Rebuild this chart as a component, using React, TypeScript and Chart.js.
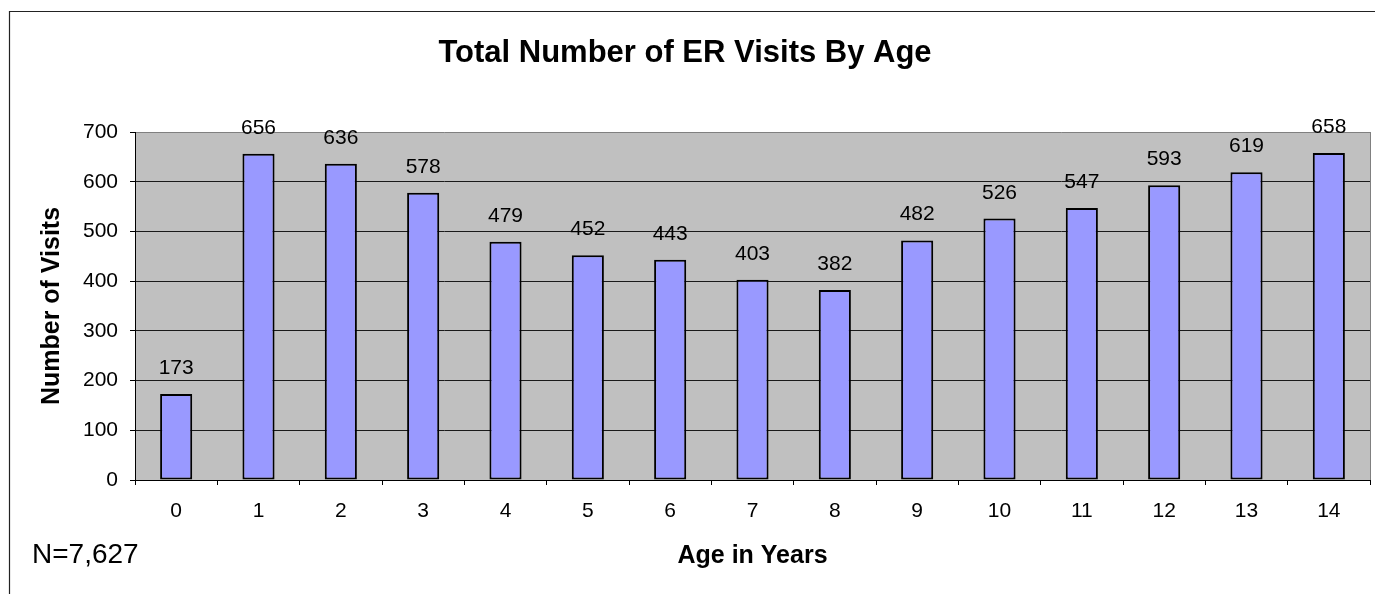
import React, { useEffect, useRef } from 'react';
import { Chart, registerables } from 'chart.js';

Chart.register(...registerables);

// ---- data ----
const ages: string[] = ['0', '1', '2', '3', '4', '5', '6', '7', '8', '9', '10', '11', '12', '13', '14'];
const visits: number[] = [173, 656, 636, 578, 479, 452, 443, 403, 382, 482, 526, 547, 593, 619, 658];
const yTicks: number[] = [0, 100, 200, 300, 400, 500, 600, 700];
const chartTitle = 'Total Number of ER Visits By Age';
const xAxisTitle = 'Age in Years';
const yAxisTitle = 'Number of Visits';
const totalNote = 'N=7,627';

const FONT = "'Liberation Sans', Arial, Helvetica, sans-serif";

const framePlugin = {
  id: 'framePlugin',
  beforeDraw(chart: any) {
    const { ctx, chartArea: a } = chart;
    ctx.save();
    ctx.fillStyle = '#C0C0C0';
    ctx.fillRect(a.left, a.top, a.right - a.left, a.bottom - a.top);
    ctx.restore();
  },
  afterDatasetsDraw(chart: any) {
    const { ctx } = chart;
    const meta = chart.getDatasetMeta(0);
    ctx.save();
    ctx.fillStyle = '#000';
    ctx.font = `21px ${FONT}`;
    ctx.textAlign = 'center';
    ctx.textBaseline = 'alphabetic';
    meta.data.forEach((el: any, i: number) => {
      ctx.fillText(String(visits[i]), el.x, el.y - 20);
    });
    ctx.restore();
  },
  afterDraw(chart: any) {
    const { ctx, chartArea: a, width, height } = chart;
    ctx.save();
    // right edge of plot area
    ctx.strokeStyle = '#808080';
    ctx.lineWidth = 1;
    ctx.beginPath();
    ctx.moveTo(a.right + 0.5, a.top);
    ctx.lineTo(a.right + 0.5, a.bottom);
    ctx.stroke();
    // outer chart frame
    ctx.strokeStyle = '#222';
    ctx.lineWidth = 1.2;
    ctx.beginPath();
    ctx.moveTo(9.5, height);
    ctx.lineTo(9.5, 11.5);
    ctx.lineTo(width, 11.5);
    ctx.stroke();
    // N note
    ctx.fillStyle = '#000';
    ctx.font = `28px ${FONT}`;
    ctx.textAlign = 'left';
    ctx.textBaseline = 'alphabetic';
    ctx.fillText(totalNote, 32, 563);
    ctx.restore();
  },
};

export default function App() {
  const canvasRef = useRef<HTMLCanvasElement | null>(null);

  useEffect(() => {
    if (!canvasRef.current) return;
    const chart = new Chart(canvasRef.current, {
      type: 'bar',
      data: {
        labels: ages,
        datasets: [
          {
            label: 'Visits',
            data: visits,
            backgroundColor: '#9999FF',
            borderColor: '#000000',
            borderWidth: 2,
            borderSkipped: false,
            barPercentage: 0.39,
            categoryPercentage: 1,
          },
        ],
      },
      options: {
        animation: false,
        responsive: true,
        maintainAspectRatio: false,
        layout: { padding: { left: 0, right: 5, top: 0, bottom: 0 } },
        plugins: {
          legend: { display: false },
          tooltip: { enabled: false },
          title: {
            display: true,
            text: chartTitle,
            color: '#000',
            font: { family: FONT, size: 31, weight: 'bold', lineHeight: '36px' },
            padding: { top: 35, bottom: 61 },
          },
        },
        scales: {
          x: {
            type: 'category',
            offset: true,
            afterFit: (s: any) => {
              s.height = 114;
            },
            grid: {
              display: true,
              offset: true,
              drawOnChartArea: false,
              drawTicks: true,
              tickLength: 5,
              tickColor: '#000',
              color: '#000',
            },
            border: { display: true, color: '#000', width: 1 },
            ticks: {
              color: '#000',
              font: { family: FONT, size: 21 },
              padding: 14,
              maxRotation: 0,
              autoSkip: false,
            },
            title: {
              display: true,
              text: xAxisTitle,
              color: '#000',
              font: { family: FONT, size: 25, weight: 'bold', lineHeight: 1.2 },
              padding: { top: 0, bottom: 23 },
            },
          },
          y: {
            min: 0,
            max: 700,
            afterBuildTicks: (s: any) => {
              s.ticks = yTicks.map((v) => ({ value: v }));
            },
            afterFit: (s: any) => {
              s.width = 135;
            },
            grid: {
              display: true,
              drawOnChartArea: true,
              drawTicks: true,
              tickLength: 5,
              tickColor: '#000',
              color: (c: any) => (c.tick && c.tick.value === 700 ? '#808080' : '#1a1a1a'),
              lineWidth: 1,
            },
            border: { display: true, color: '#000', width: 1 },
            ticks: {
              color: '#000',
              font: { family: FONT, size: 21 },
              padding: 12,
            },
            title: {
              display: true,
              text: yAxisTitle,
              color: '#000',
              font: { family: FONT, size: 25, weight: 'bold', lineHeight: 1.2 },
              padding: { top: 37, bottom: 0 },
            },
          },
        },
      },
      plugins: [framePlugin],
    } as any);
    return () => chart.destroy();
  }, []);

  return (
    <div style={{ position: 'absolute', left: 0, top: 0, width: 1375, height: 594, background: '#fff' }}>
      <canvas ref={canvasRef} />
    </div>
  );
}
